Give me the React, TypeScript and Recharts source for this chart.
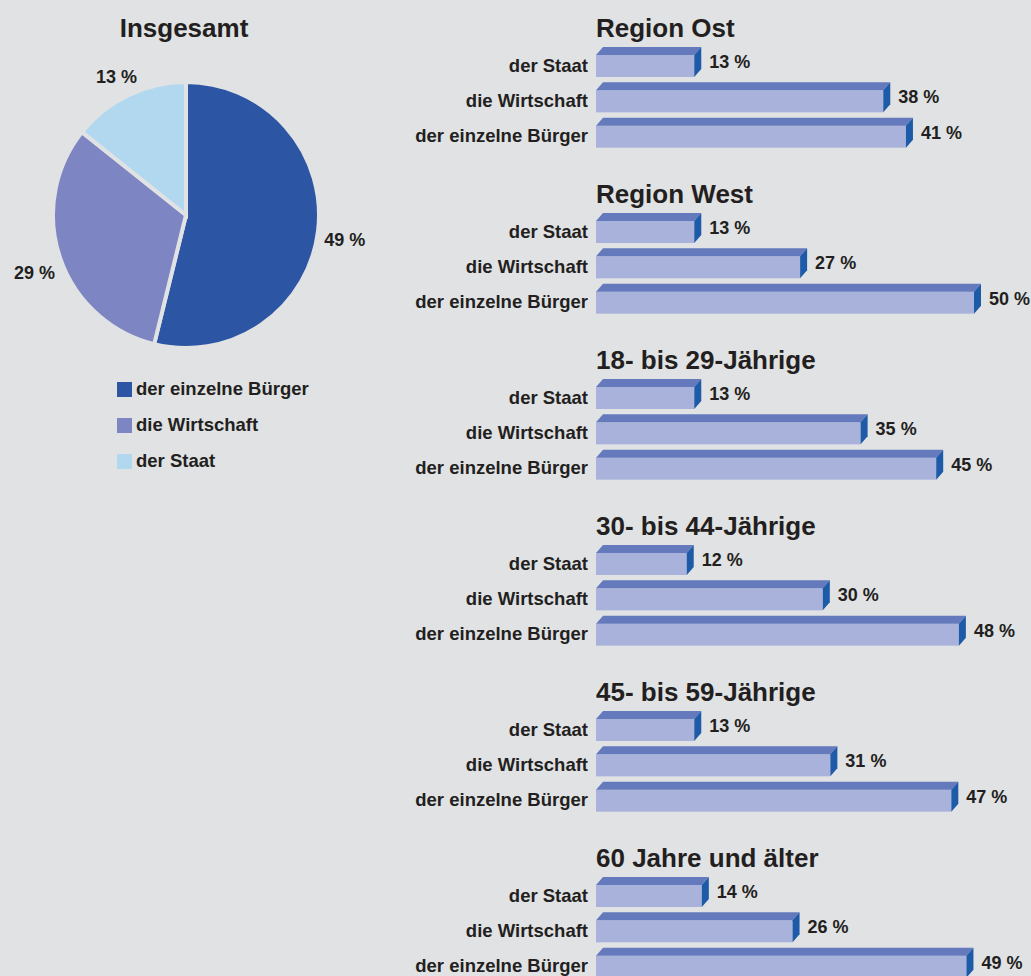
import React from "react";
import {
  PieChart,
  Pie,
  Cell,
  Legend,
  BarChart,
  Bar,
  XAxis,
  YAxis,
  LabelList,
} from "recharts";

const BG = "#e1e2e4";
const FONT = "'Liberation Sans', Arial, Helvetica, sans-serif";
const INK = "#231f20";

// Insgesamt (pie)
const pieNames = ["der einzelne Bürger", "die Wirtschaft", "der Staat"];
const pieValues = [49, 29, 13];
const pieColors = ["#2c56a3", "#7d86c3", "#b2d8ef"];

// bar groups
const barCategories = ["der Staat", "die Wirtschaft", "der einzelne Bürger"];
const groupTitles = [
  "Region Ost",
  "Region West",
  "18- bis 29-Jährige",
  "30- bis 44-Jährige",
  "45- bis 59-Jährige",
  "60 Jahre und älter",
];
const groupValues = [
  [13, 38, 41],
  [13, 27, 50],
  [13, 35, 45],
  [12, 30, 48],
  [13, 31, 47],
  [14, 26, 49],
];

const DEPTH = 7;
const TOP_H = 8;

function Box3D(props: any) {
  const { x, y, width, height } = props;
  if (!width || width <= 0) return null;
  const fy = y + TOP_H;
  const fb = y + height;
  const right = x + width;
  return (
    <g>
      <rect x={x} y={fy} width={width} height={height - TOP_H} fill="#a8b2da" />
      <polygon
        points={`${x},${fy} ${x + DEPTH},${y} ${right + DEPTH},${y} ${right},${fy}`}
        fill="#6579bd"
      />
      <polygon
        points={`${right},${fy} ${right + DEPTH},${y} ${right + DEPTH},${fb - TOP_H} ${right},${fb}`}
        fill="#1d5aa8"
      />
    </g>
  );
}

function ValueLabel(props: any) {
  const { x, y, width, height, value } = props;
  return (
    <text
      x={x + width + 15}
      y={y + height / 2}
      dominantBaseline="central"
      fontFamily={FONT}
      fontWeight="bold"
      fontSize={18}
      fill={INK}
    >
      {value} %
    </text>
  );
}

function PieLabel(props: any) {
  const { cx, cy, midAngle, outerRadius, value } = props;
  const RAD = Math.PI / 180;
  const r = outerRadius + 27;
  const x = cx + r * Math.cos(-midAngle * RAD);
  const y = cy + r * Math.sin(-midAngle * RAD) + 6;
  return (
    <text
      x={x}
      y={y}
      textAnchor="middle"
      dominantBaseline="central"
      fontFamily={FONT}
      fontWeight="bold"
      fontSize={18}
      fill={INK}
    >
      {value} %
    </text>
  );
}

function PieLegend() {
  return (
    <div style={{ fontFamily: FONT, fontWeight: "bold", fontSize: 18.5, color: INK }}>
      {pieNames.map((name, i) => (
        <div key={name} style={{ display: "flex", alignItems: "center", height: 36 }}>
          <span
            style={{
              display: "inline-block",
              width: 15,
              height: 15,
              background: pieColors[i],
              marginRight: 4,
            }}
          />
          {name}
        </div>
      ))}
    </div>
  );
}

const titleStyle: React.CSSProperties = {
  position: "absolute",
  fontFamily: FONT,
  fontWeight: "bold",
  fontSize: 26,
  color: INK,
  lineHeight: "30px",
  whiteSpace: "nowrap",
};

export default function App() {
  const pieData = pieNames.map((name, i) => ({ name, value: pieValues[i] }));

  return (
    <div
      style={{
        position: "absolute",
        left: 0,
        top: 0,
        width: 1031,
        height: 976,
        background: BG,
        overflow: "hidden",
      }}
    >
      <div style={{ ...titleStyle, left: 0, width: 368, textAlign: "center", top: 13 }}>
        Insgesamt
      </div>
      <div style={{ position: "absolute", left: 0, top: 0 }}>
        <PieChart width={400} height={490} margin={{ top: 0, right: 0, bottom: 0, left: 0 }}>
          <Pie
            data={pieData}
            dataKey="value"
            nameKey="name"
            cx={186}
            cy={215}
            outerRadius={133}
            startAngle={90}
            endAngle={-270}
            stroke={BG}
            strokeWidth={4}
            label={PieLabel}
            labelLine={false}
            isAnimationActive={false}
          >
            {pieData.map((d, i) => (
              <Cell key={d.name} fill={pieColors[i]} />
            ))}
          </Pie>
          <Legend
            content={PieLegend}
            wrapperStyle={{ position: "absolute", left: 117, top: 371, width: 280 }}
          />
        </PieChart>
      </div>

      {groupTitles.map((title, g) => {
        const top = g * 166;
        const data = barCategories.map((c, i) => ({ name: c, value: groupValues[g][i] }));
        return (
          <div key={title}>
            <div style={{ ...titleStyle, left: 596, top: top + 13 }}>{title}</div>
            <div style={{ position: "absolute", left: 400, top: top + 44 }}>
              <BarChart
                layout="vertical"
                width={631}
                height={106}
                data={data}
                margin={{ top: 0, right: 57, bottom: 0, left: 0 }}
                barCategoryGap={5}
              >
                <XAxis type="number" domain={[0, 50]} hide />
                <YAxis
                  type="category"
                  dataKey="name"
                  width={196}
                  axisLine={false}
                  tickLine={false}
                  tickSize={6}
                  tickMargin={2}
                  tick={{
                    fontFamily: FONT,
                    fontWeight: "bold",
                    fontSize: 18.5,
                    fill: INK,
                    dy: 3.5,
                  }}
                  interval={0}
                />
                <Bar dataKey="value" barSize={30} shape={Box3D} isAnimationActive={false}>
                  <LabelList dataKey="value" content={ValueLabel} />
                </Bar>
              </BarChart>
            </div>
          </div>
        );
      })}
    </div>
  );
}
